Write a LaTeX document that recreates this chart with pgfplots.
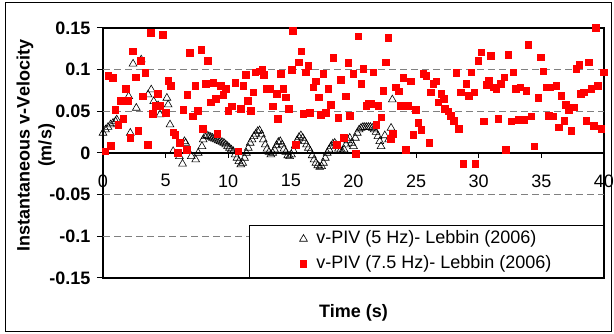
\documentclass[border=0pt]{standalone}
\usepackage{pgfplots}
\pgfplotsset{compat=1.18}
\usepackage{fontspec}
\setmainfont{Liberation Sans}
\newcommand\fs{\fontsize{18}{21.6}\selectfont}

\pgfplotstableread{
x y
0.0 0.024
0.2 0.028
0.4 0.031
0.6 0.034
0.8 0.036
1.0 0.038
1.1 0.040
2.05 0.068
2.18 0.024
2.4 0.107
2.66 0.054
3.05 0.112
3.6 0.070
3.85 0.076
4.05 0.062
4.4 0.057
4.55 0.046
5.1 0.066
5.2 0.058
5.35 0.034
5.6 0.002
6.1 -0.004
6.35 -0.013
6.5 0.014
6.6 0.012
7.05 -0.004
7.4 -0.008
7.6 0.000
7.9 0.008
8.0 0.016
8.15 0.020
8.3 0.021
8.45 0.020
8.6 0.019
8.75 0.018
8.9 0.017
9.05 0.016
9.2 0.015
9.35 0.014
9.5 0.013
9.65 0.012
9.8 0.010
9.95 0.008
10.1 0.006
10.25 0.004
10.4 0.002
10.55 -0.002
10.7 -0.006
10.85 -0.010
11.0 -0.014
11.15 -0.012
11.3 -0.006
11.45 0.000
11.6 0.006
11.75 0.012
11.9 0.016
12.05 0.020
12.2 0.023
12.35 0.026
12.5 0.027
12.65 0.022
12.8 0.016
12.95 0.010
13.1 0.005
13.25 0.001
13.4 -0.002
13.55 0.000
13.7 0.004
13.85 0.009
14.0 0.013
14.15 0.014
14.3 0.010
14.45 0.005
14.6 0.001
14.75 -0.003
14.9 -0.004
15.05 -0.002
15.2 0.003
15.35 0.009
15.5 0.015
15.65 0.019
15.8 0.021
15.95 0.018
16.1 0.014
16.25 0.010
16.4 0.006
16.55 0.002
16.7 -0.003
16.85 -0.008
17.0 -0.012
17.15 -0.015
17.3 -0.017
17.45 -0.016
17.6 -0.012
17.75 -0.006
17.9 0.000
18.05 0.004
18.2 0.008
18.35 0.011
18.5 0.012
18.65 0.009
18.8 0.005
18.95 0.003
19.1 0.002
19.25 0.004
19.4 0.010
19.55 0.015
19.7 0.018
19.85 0.012
20.0 0.008
20.15 0.018
20.3 0.024
20.45 0.028
20.6 0.030
20.75 0.031
20.9 0.031
21.05 0.031
21.2 0.031
21.35 0.031
21.5 0.030
21.65 0.028
21.8 0.025
21.95 0.020
22.1 0.014
22.2 0.008
22.5 0.021
22.8 0.016
23.0 0.030
23.1 0.064
}\tri

\pgfplotstableread{
x y
0.19 0.002
0.43 0.093
0.61 0.009
0.77 0.090
0.98 0.052
1.20 0.034
1.36 0.063
1.62 0.041
1.81 0.077
1.97 0.063
2.18 0.018
2.39 0.122
2.61 0.091
2.82 0.027
3.03 0.111
3.16 0.068
3.38 0.096
3.59 0.010
3.80 0.144
3.99 0.047
4.23 0.057
4.39 0.071
4.55 0.057
4.79 0.142
5.00 0.048
5.19 0.087
5.40 0.081
5.59 0.025
5.77 0.022
5.98 0.000
6.14 0.012
6.41 0.052
6.68 0.004
6.73 0.070
6.94 0.120
7.18 0.044
7.37 0.081
7.58 0.051
7.85 0.124
7.95 0.029
8.19 0.083
8.38 0.111
8.59 0.061
8.80 0.084
9.02 0.065
9.12 0.023
9.39 0.081
9.60 0.070
9.79 0.077
10.00 0.051
10.27 0.056
10.56 0.084
10.80 0.002
10.98 0.053
11.20 0.081
11.40 0.094
11.57 0.063
11.78 0.051
12.00 0.073
12.15 0.097
12.47 0.098
12.71 0.100
12.85 0.094
13.09 0.077
13.32 0.077
13.56 0.056
13.86 0.071
13.94 0.041
14.18 0.095
14.39 0.077
14.60 0.067
14.81 0.053
15.05 0.100
15.16 0.147
15.40 0.010
15.61 0.109
15.82 0.122
16.00 0.047
16.20 0.097
16.38 0.105
16.52 0.048
16.78 0.079
16.99 0.086
17.20 0.067
17.39 0.046
17.57 0.095
17.77 0.048
17.98 0.077
18.16 0.058
18.38 0.114
18.64 0.010
18.78 0.042
18.96 0.088
19.20 0.018
19.36 0.068
19.57 0.108
19.70 0.045
19.99 0.095
20.17 -0.001
20.38 0.140
20.60 0.083
20.79 0.101
21.00 0.057
21.16 0.059
21.37 0.059
21.58 0.097
21.80 0.034
21.98 0.057
22.22 0.043
22.38 0.075
22.57 0.109
22.78 0.138
22.97 0.017
23.13 0.023
23.39 0.079
23.60 0.074
23.77 0.057
23.98 0.090
24.19 0.004
24.38 0.057
24.59 0.086
24.78 0.022
24.97 0.052
25.15 0.036
25.39 0.028
25.58 0.095
25.82 0.093
26.03 0.012
26.14 0.073
26.37 0.083
26.61 0.086
26.77 0.061
27.00 0.071
27.22 0.065
27.30 0.053
27.57 0.050
27.78 0.045
28.00 0.039
28.21 0.096
28.42 0.029
28.55 0.073
28.77 -0.013
29.01 0.083
29.20 0.069
29.41 0.097
29.65 0.073
29.73 -0.013
29.97 0.111
30.18 0.121
30.39 0.038
30.58 0.082
30.79 0.087
30.95 0.117
31.16 0.079
31.38 0.077
31.56 0.041
31.75 0.083
32.02 0.091
32.15 0.004
32.36 0.118
32.60 0.038
32.76 0.097
32.97 0.077
33.21 0.040
33.32 0.079
33.59 0.040
33.80 0.075
33.96 0.130
34.20 0.044
34.44 0.008
34.76 0.066
34.97 0.115
35.16 0.098
35.43 0.079
35.58 0.045
35.71 0.079
35.95 0.044
36.17 0.081
36.38 0.031
36.59 0.069
36.83 0.039
36.94 0.058
37.18 0.052
37.37 0.027
37.58 0.055
37.79 0.101
38.03 0.106
38.16 0.071
38.38 0.073
38.59 0.039
38.78 0.109
38.99 0.077
39.20 0.033
39.36 0.150
39.52 0.081
39.79 0.029
40.00 0.097
}\sq

\begin{document}
\begin{tikzpicture}
\useasboundingbox (0,0) rectangle (614pt,334pt);
\draw[line width=1.2pt] (5.5pt,2.5pt) rectangle (611.5pt,331.5pt);
% behind: zero line with x ticks
\begin{axis}[
  at={(103pt,56pt)}, anchor=south west,
  width=501pt, height=250pt, scale only axis,
  xmin=0, xmax=40, ymin=-0.15, ymax=0.15,
  axis x line=middle, axis y line=none,
  axis line style={-, line width=1.2pt, black},
  xtick={0,5,...,40},
  xticklabels={0,5,10,15,20,25,30,35,40},
  ytick=\empty,
  tick align=outside, major tick length=5pt,
  xtick style={line width=1pt, black},
  xticklabel style={font=\fs, yshift=-13pt},
]
\end{axis}
% front: box, y ticks, grid, data, legend
\begin{axis}[
  at={(103pt,56pt)}, anchor=south west,
  width=501pt, height=250pt, scale only axis,
  xmin=0, xmax=40, ymin=-0.15, ymax=0.15,
  axis line style={line width=1.2pt, black},
  xtick=\empty,
  ytick={-0.15,-0.1,-0.05,0,0.05,0.1,0.15},
  yticklabels={-0.15,-0.1,-0.05,0,0.05,0.1,0.15},
  ytick pos=left, tick align=outside, major tick length=6pt,
  ytick style={line width=1pt, black},
  yticklabel style={font=\fs\bfseries, xshift=-3pt},
  extra y ticks={-0.1,-0.05,0.05,0.1},
  extra y tick labels={},
  extra y tick style={grid=major, major tick length=0pt},
  grid style={dash pattern=on 7pt off 4pt, line width=1pt, gray},
  xlabel={Time (s)},
  xlabel style={font=\fs\bfseries, at={(axis description cs:0.5,-0.14)}, anchor=center},
  ylabel={Instantaneous v-Velocity\\(m/s)},
  ylabel style={font=\fs\bfseries, align=center, at={(axis description cs:-0.134,0.53)}, anchor=center, rotate=0},
  legend style={at={(1,0)}, anchor=south east, font=\fs, draw=black, line width=1pt,
    fill=white, inner xsep=50pt, inner ysep=2pt, row sep=2pt,
    nodes={text height=14pt, text depth=5pt},
    /tikz/every odd column/.append style={column sep=7pt}},
  legend cell align=left,
]
\addplot[only marks, mark=triangle, mark size=4.5pt, mark options={draw=black, fill=white, line width=0.6pt}] table[x=x,y=y] {\tri};
\addlegendentry{v-PIV (5 Hz)- Lebbin (2006)}
\addplot[only marks, mark=square*, mark size=3.3pt, mark options={draw=red, fill=red}] table[x=x,y=y] {\sq};
\addlegendentry{v-PIV (7.5 Hz)- Lebbin (2006)}
\end{axis}
\end{tikzpicture}
\end{document}
